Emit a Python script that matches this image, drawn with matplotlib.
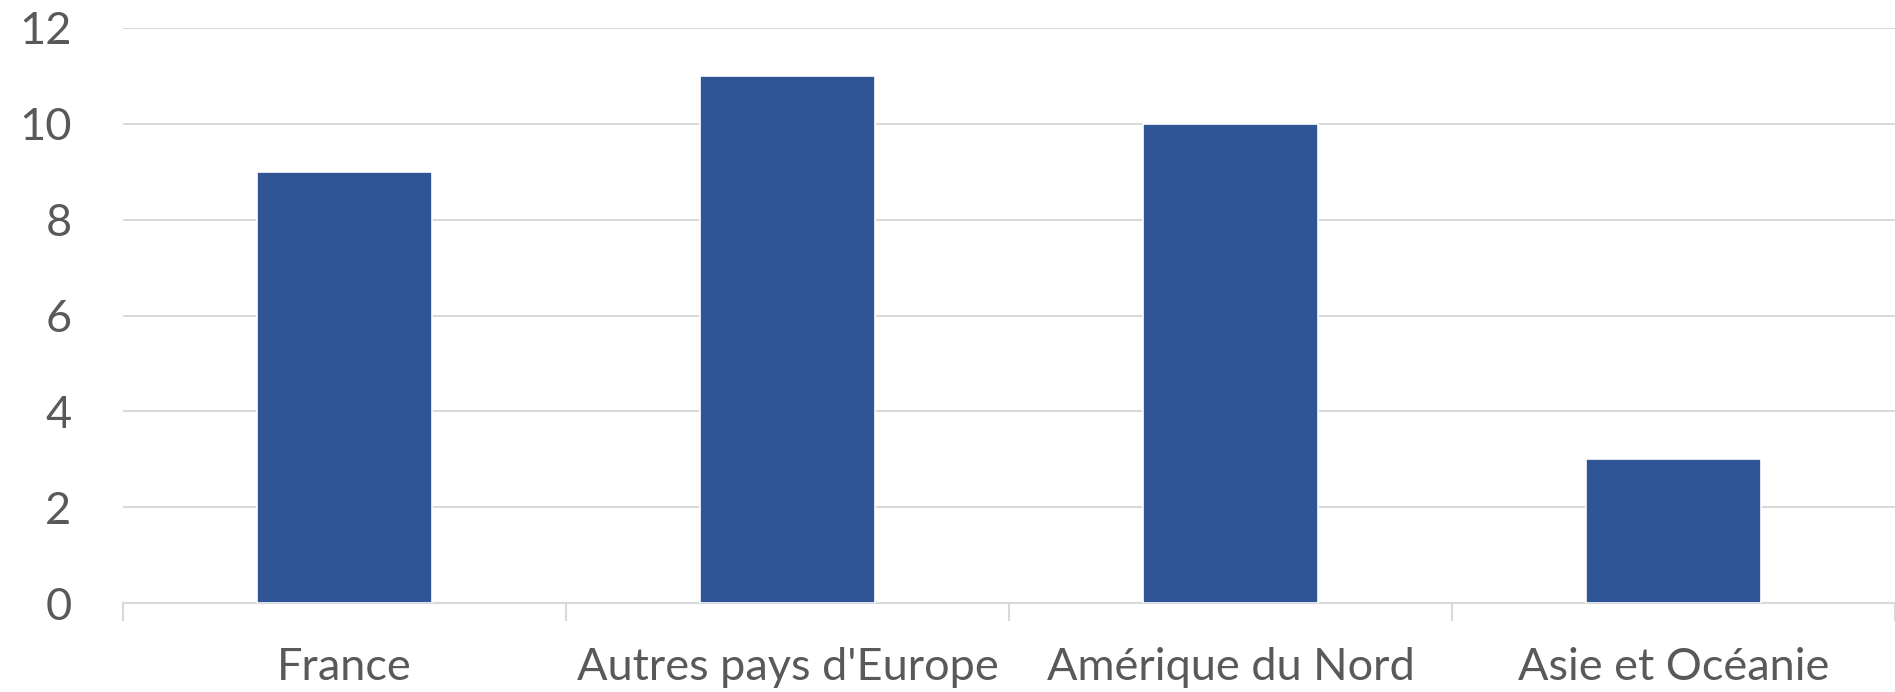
import matplotlib.pyplot as plt
import numpy as np

# categories and values
regions = ["France", "Autres pays d'Europe", "Amérique du Nord", "Asie et Océanie"]
counts = [9, 11, 10, 3]
y_ticks = [0, 2, 4, 6, 8, 10, 12]

plt.rcParams['font.family'] = ['Lato', 'DejaVu Sans']

fig = plt.figure(figsize=(18.95, 6.92), dpi=100)
ax = fig.add_axes([123 / 1895, 1 - 603 / 692, 1 - 123 / 1895, (603 - 28) / 692])

x = np.arange(len(regions))
ax.bar(x, counts, width=0.395, color='#2F5597', edgecolor='white', linewidth=1.2, zorder=3)

ax.set_xlim(-0.5, len(regions) - 0.5)
ax.set_ylim(0, 12)
ax.set_yticks(y_ticks)
ax.set_yticklabels([str(v) for v in y_ticks])
ax.yaxis.grid(True, color='#D9D9D9', linewidth=1.5, zorder=0)
ax.set_axisbelow(True)

for s in ['top', 'right', 'left']:
    ax.spines[s].set_visible(False)
ax.spines['bottom'].set_color('#D9D9D9')
ax.spines['bottom'].set_linewidth(1.5)

# category labels at centers, tick marks at category boundaries
ax.set_xticks(x)
ax.set_xticklabels(regions)
ax.tick_params(axis='x', length=0, pad=32, labelsize=32.5, labelcolor='#595959')
ax.set_xticks(np.arange(-0.5, len(regions)), minor=True)
ax.tick_params(axis='x', which='minor', length=13, width=1.5, color='#D9D9D9', direction='out')
ax.tick_params(axis='y', length=0, pad=37, labelsize=32.5, labelcolor='#595959')

fig.savefig('out.png', dpi=100)
